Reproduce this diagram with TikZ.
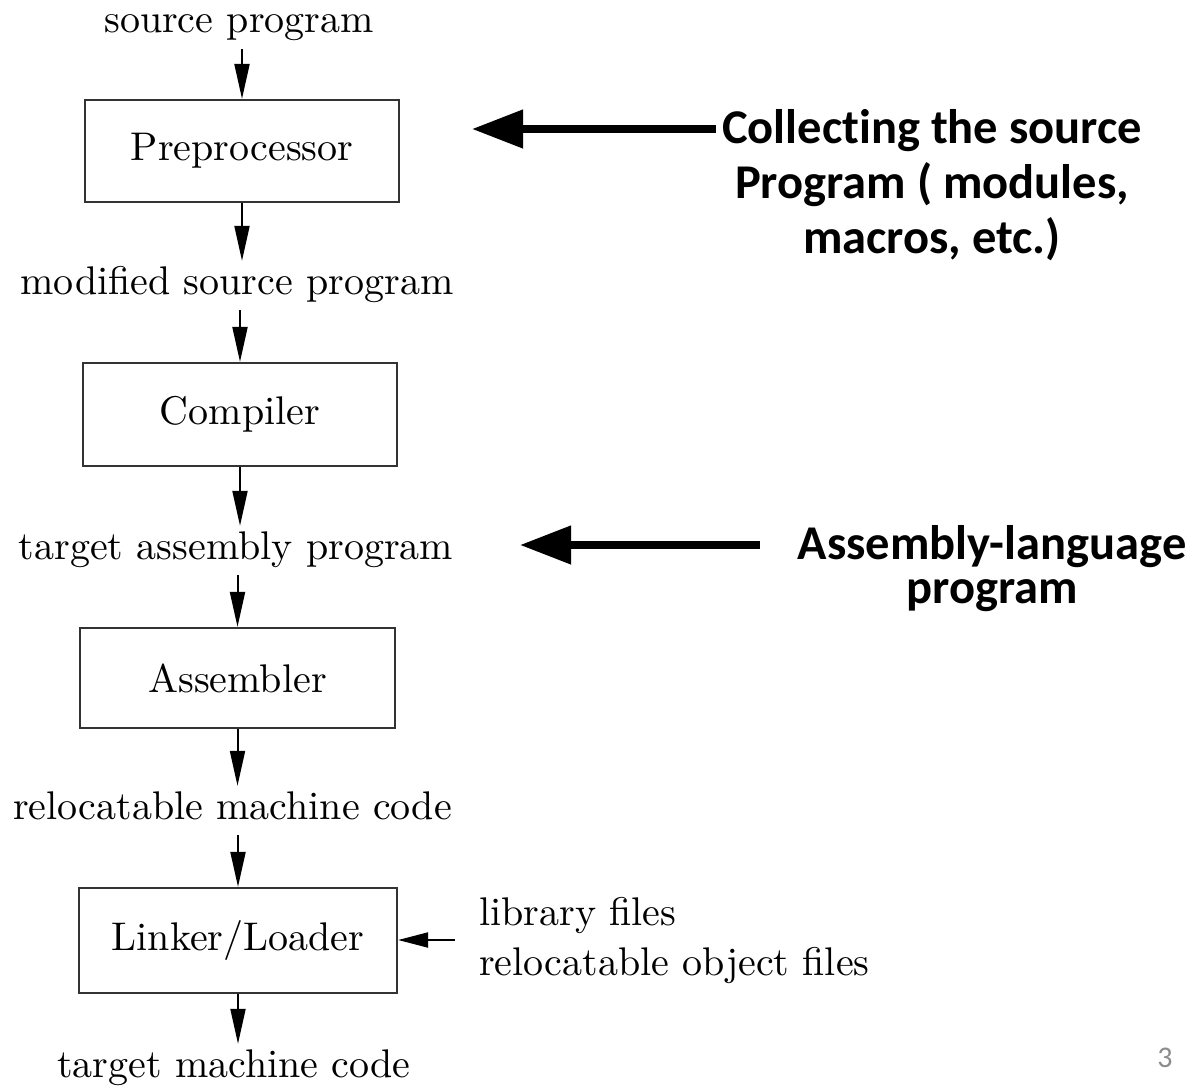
\documentclass[tikz,border=0pt]{standalone}
\usepackage{fontspec}
\setmainfont{lmroman10-regular.otf}
\newfontfamily\notefont{Carlito}[Ligatures=NoCommon]
\usetikzlibrary{arrows.meta}

% stacked lines with a fixed distance between baselines
\newcommand\centredlines[2]{\vtop{\baselineskip=#1\relax\lineskiplimit=-\maxdimen\halign{\hfil##\hfil\cr#2\crcr}}}
\newcommand\leftlines[2]{\vtop{\baselineskip=#1\relax\lineskiplimit=-\maxdimen\halign{##\hfil\cr#2\crcr}}}

\begin{document}
\begin{tikzpicture}[x=1pt,y=-1pt,
  stage/.style={draw=black!80, line width=2.2pt, minimum width=314pt,
    minimum height=102pt, inner sep=0pt, font=\fontsize{40}{48}\selectfont},
  datum/.style={anchor=base, inner sep=5pt, text height=28pt, text depth=11pt,
    font=\fontsize{40}{48}\selectfont},
  flow/.style={line width=2pt, -{Triangle[length=35pt,width=15pt]}},
  note/.style={anchor=base, inner sep=9pt,
    font=\notefont\bfseries\fontsize{48.5}{56}\selectfont},
  callout/.style={line width=7.5pt, -{Triangle[length=51pt,width=37pt]}}]

\fill[white] (0,0) rectangle (1199,1089);
\useasboundingbox (0,0) rectangle (1199,1089);

% processing chain
\node[datum] (src) at (239,33) {source program};
\node[stage] (prep) at (242,151) {Preprocessor};
\node[datum] (mod) at (237,294) {modified source program};
\node[stage, minimum height=103pt] (comp) at (240,414.5) {Compiler};
\node[datum] (tap) at (236,559) {target assembly program};
\node[stage, minimum width=315pt, minimum height=100pt] (asm) at (237.5,678) {Assembler};
\node[datum] (rmc) at (232.5,819) {relocatable machine code};
\node[stage, minimum width=318pt, minimum height=105pt] (link) at (238,940.5) {Linker/Loader};
\node[datum] (tmc) at (234,1077) {target machine code};

\node[anchor=base west, inner sep=0pt, font=\fontsize{40}{48}\selectfont] (libs) at (479,925)
  {\leftlines{50pt}{library files\cr relocatable object files}};

\draw[flow] (src.south -| prep) -- (prep.north);
\draw[flow] (prep.south) -- (prep.south |- mod.north);
\draw[flow] (mod.south -| comp) -- (comp.north);
\draw[flow] (comp.south) -- (comp.south |- tap.north);
\draw[flow] (tap.south -| asm) -- (asm.north);
\draw[flow] (asm.south) -- (asm.south |- rmc.north);
\draw[flow] (rmc.south -| link) -- (link.north);
\draw[flow] (link.south) -- (link.south |- tmc.north);
\draw[flow, -{Triangle[length=30pt,width=15pt]}, shorten <=24pt] (libs.west) -- (libs.west -| link.east);

% annotations
\node[note] (note1) at (932,143)
  {\centredlines{55pt}{Collecting the source\cr Program ( modules,\cr macros, etc.)}};
\node[note] (note2) at (992,559)
  {\centredlines{44pt}{Assembly-language\cr program}};
\coordinate (tip1) at (472,129);
\coordinate (tip2) at (520,545);
\draw[callout, shorten <=-3pt] (note1.west |- tip1) -- (tip1);
\draw[callout, shorten <=29pt] (note2.west |- tip2) -- (tip2);

% slide number
\node[anchor=base, inner sep=0pt, font=\notefont\fontsize{30}{36}\selectfont, text=black!45] (page) at (1165,1067) {3};
\end{tikzpicture}
\end{document}
